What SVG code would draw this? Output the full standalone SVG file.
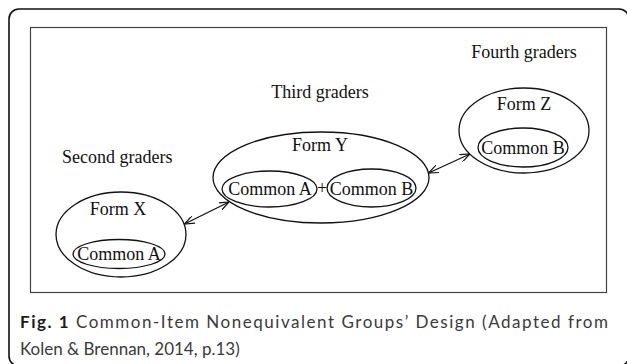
<svg xmlns="http://www.w3.org/2000/svg" width="627" height="364" viewBox="0 0 627 364">
<style>
.t{font-family:"Liberation Serif","Times New Roman",serif;font-size:18px;fill:#111}
.m{text-anchor:middle}
.e{fill:none;stroke:#111;stroke-width:1.3}
.c{font-family:Lato,"Open Sans",sans-serif;font-size:17px;fill:#3a3a3a}
</style>
<defs>
<marker id="ah" viewBox="0 0 10 8" refX="10" refY="4" markerWidth="10" markerHeight="8" markerUnits="userSpaceOnUse" orient="auto-start-reverse">
<path d="M0,0 L10,4 L0,8" fill="none" stroke="#111" stroke-width="1.2"/>
</marker>
</defs>
<rect x="0" y="0" width="627" height="364" fill="#fff"/>
<rect x="9" y="9" width="620" height="357" rx="10" fill="none" stroke="#111" stroke-width="1.6"/>
<rect x="30.5" y="27.5" width="576" height="265" fill="none" stroke="#444" stroke-width="1.2"/>

<g id="label-fourth"><text class="t m" x="524" y="58">Fourth graders</text></g>
<g id="label-third"><text class="t m" x="320" y="98">Third graders</text></g>
<g id="label-second"><text class="t" x="62" y="163">Second graders</text></g>

<g id="formX">
<ellipse class="e" cx="121" cy="234.5" rx="65" ry="42.5"/>
<text class="t m" x="118" y="215">Form X</text>
<g id="formX-commonA">
<ellipse class="e" cx="119" cy="254" rx="46" ry="14.5"/>
<text class="t m" x="119" y="260">Common A</text>
</g>
</g>

<g id="formY">
<ellipse class="e" cx="321" cy="177.5" rx="108" ry="45.5"/>
<text class="t m" x="320" y="151">Form Y</text>
<g id="formY-commonA">
<ellipse class="e" cx="269.5" cy="189" rx="47.5" ry="18"/>
<text class="t m" x="270" y="195">Common A</text>
</g>
<text class="t m" x="322" y="194">+</text>
<g id="formY-commonB">
<ellipse class="e" cx="371.5" cy="188" rx="44.5" ry="19"/>
<text class="t m" x="371.5" y="195">Common B</text>
</g>
</g>

<g id="formZ">
<ellipse class="e" cx="524" cy="130.5" rx="65" ry="42.5"/>
<text class="t m" x="524" y="110">Form Z</text>
<g id="formZ-commonB">
<ellipse class="e" cx="523" cy="147.5" rx="45" ry="19.5"/>
<text class="t m" x="523" y="154">Common B</text>
</g>
</g>

<g id="connectors" stroke="#111" stroke-width="1.3" fill="none">
<line x1="184.5" y1="224" x2="229" y2="202" marker-start="url(#ah)" marker-end="url(#ah)"/>
<line x1="428.5" y1="173" x2="470" y2="154" marker-start="url(#ah)" marker-end="url(#ah)"/>
</g>

<g id="caption">
<text class="c" x="20" y="328" textLength="588" lengthAdjust="spacing"><tspan font-weight="bold" fill="#1a1a1a">Fig. 1</tspan> Common-Item Nonequivalent Groups’ Design (Adapted from</text>
<text class="c" x="20" y="355">Kolen &amp; Brennan, 2014, p.13)</text>
</g>
</svg>
